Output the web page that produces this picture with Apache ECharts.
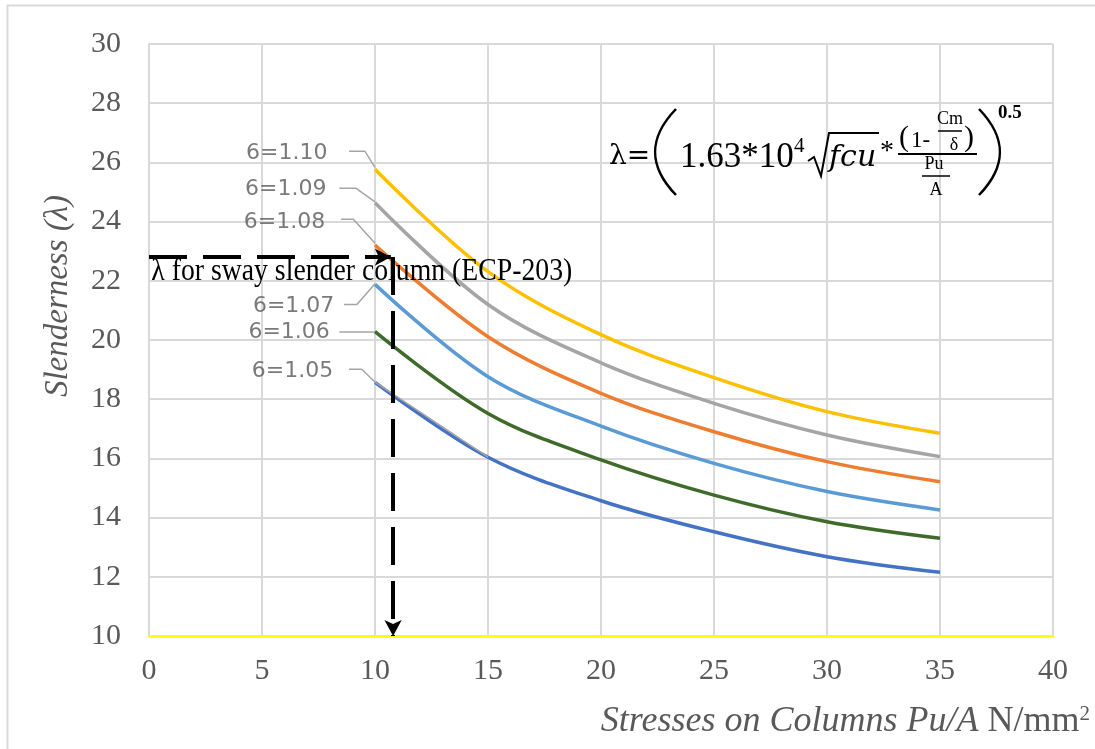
<!DOCTYPE html>
<html>
<head>
<meta charset="utf-8">
<script src="https://cdn.jsdelivr.net/npm/echarts@6/dist/echarts.min.js"></script>
<style>
html,body{margin:0;padding:0;background:#fff;}
#chart{width:1095px;height:749px;}
</style>
</head>
<body>
<div id="chart"></div>
<script>
// ---- data ----
const stress = [10, 15, 20, 25, 30, 35];
const d110 = [25.77, 22.31, 20.18, 18.73, 17.58, 16.85];
const d109 = [24.64, 21.20, 19.23, 17.86, 16.79, 16.06];
const d108 = [23.21, 20.11, 18.20, 16.90, 15.89, 15.21];
const d107 = [21.88, 18.76, 17.09, 15.83, 14.88, 14.26];
const d106 = [20.28, 17.52, 15.95, 14.76, 13.86, 13.30];
const d105 = [18.57, 16.04, 14.57, 13.52, 12.68, 12.15];
const seriesNames = ['6=1.10', '6=1.09', '6=1.08', '6=1.07', '6=1.06', '6=1.05'];
const xTicks = [0, 5, 10, 15, 20, 25, 30, 35, 40];
const yTicks = [10, 12, 14, 16, 18, 20, 22, 24, 26, 28, 30];
const designStress = 10.8;   // Pu/A for the ECP-203 limit
const swayLimit = 22.8;      // λ for sway slender column

// ---- styles ----
const colors = ['#FFC000', '#A5A5A5', '#ED7D31', '#5B9BD5', '#3F6B2A', '#4472C4'];
const allData = [d110, d109, d108, d107, d106, d105];
const gray = '#595959';

// label positions (data coords) and leader line paths
const labelPos = [[7.9, 26.3], [7.85, 25.1], [7.8, 23.98], [8.2, 21.13], [8.0, 20.27], [8.15, 18.95]];
const leaders = [
  [[8.85, 26.38], [9.55, 26.38], [10, 25.83]],
  [[8.42, 25.13], [9.15, 25.13], [10, 24.67]],
  [[8.5, 24.08], [9.04, 24.08], [10, 23.27]],
  [[8.63, 21.2], [9.2, 21.2], [10, 21.9]],
  [[8.42, 20.27], [10, 20.27]],
  [[8.85, 19.01], [9.41, 19.01], [10, 18.58], [15, 16.04]]
];

const series = [];
allData.forEach((arr, i) => {
  series.push({
    type: 'line', name: seriesNames[i], smooth: 0.35, symbol: 'none',
    data: stress.map((x, k) => [x, arr[k]]),
    lineStyle: { color: colors[i], width: 3.5 }, z: 3
  });
});
leaders.forEach((pts) => {
  series.push({
    type: 'line', symbol: 'none', silent: true, data: pts,
    lineStyle: { color: '#A5A5A5', width: 1.5 }, z: 4
  });
});
// label texts
series.push({
  type: 'scatter', symbolSize: 0, silent: true, z: 5,
  data: labelPos.map((p, i) => ({ value: p, name: seriesNames[i] })),
  label: {
    show: true, position: 'inside', formatter: (p) => p.name,
    fontFamily: 'DejaVu Sans', fontSize: 22, color: gray, align: 'right', verticalAlign: 'middle'
  }
});
// dashed arrows
series.push({
  type: 'line', symbol: 'none', silent: true, data: [], z: 6,
  markLine: {
    silent: true, symbol: ['none', 'arrow'], symbolSize: [13, 16],
    label: { show: false },
    lineStyle: { color: '#000', width: 4, type: [38, 16], opacity: 1 },
    data: [
      [{ coord: [0, swayLimit] }, { coord: [designStress - 0.1, swayLimit] }],
      [{ coord: [designStress, swayLimit] }, { coord: [designStress, 10] }]
    ]
  }
});

const chart = echarts.init(document.getElementById('chart'), null, { renderer: 'canvas' });
const serif = 'Liberation Serif';
chart.setOption({
  animation: false,
  backgroundColor: '#fff',
  grid: { left: 149, right: 42, top: 44, bottom: 113 },
  xAxis: {
    type: 'value', min: 0, max: 40, interval: 5,
    axisLine: { show: true, lineStyle: { color: '#FFFF00', width: 2.5 } },
    axisTick: { show: false },
    axisLabel: { fontFamily: serif, fontSize: 30, color: gray, margin: 20,
      formatter: (v) => xTicks.includes(v) ? String(v) : '' },
    splitLine: { show: true, lineStyle: { color: '#D9D9D9', width: 2 } }
  },
  yAxis: {
    type: 'value', min: 10, max: 30, interval: 2,
    axisLine: { show: true, lineStyle: { color: '#D9D9D9', width: 2 } },
    axisTick: { show: false },
    axisLabel: { fontFamily: serif, fontSize: 30, color: gray, margin: 28,
      formatter: (v) => yTicks.includes(v) ? String(v) : '' },
    splitLine: { show: true, lineStyle: { color: '#D9D9D9', width: 2 } }
  },
  series: series
});

// ---- annotations (text / formula) ----
const ctx = document.createElement('canvas').getContext('2d');
function fitScale(text, font, w) { ctx.font = font; return w / ctx.measureText(text).width; }
const limitText = 'λ for sway slender column (ECP-203)';
const limScale = fitScale(limitText, '31px "Liberation Serif"', 421);
const pLim = chart.convertToPixel({ gridIndex: 0 }, [0.1, 22.3]);

const T = (x, y, text, size, opt) => Object.assign({
  type: 'text', x: x, y: y, z: 20,
  style: Object.assign({ text: text, fontFamily: serif, fontSize: size, fill: '#000',
    textAlign: 'left', textVerticalAlign: 'middle' }, (opt && opt.style) || {})
}, opt && opt.el || {});

const graphics = [
  // outer border
  { type: 'polyline', shape: { points: [[7.5, 760], [7.5, 5.5], [1100, 5.5]] }, style: { stroke: '#D9D9D9', lineWidth: 2, fill: null } },
  // y title
  { type: 'text', x: 58, y: 296, rotation: Math.PI / 2, z: 20,
    style: { text: 'Slenderness (λ)', fontFamily: serif, fontStyle: 'italic', fontSize: 33, fill: gray,
      textAlign: 'center', textVerticalAlign: 'middle' } },
  // x title
  { type: 'text', x: 1090, y: 722, z: 20,
    style: { text: '{i|Stresses on Columns Pu/A}{n| N/mm}{s|2}', textAlign: 'right', textVerticalAlign: 'middle',
      rich: {
        i: { fontFamily: serif, fontStyle: 'italic', fontSize: 36, fill: gray },
        n: { fontFamily: serif, fontSize: 36, fill: gray },
        s: { fontFamily: serif, fontSize: 21, fill: gray, verticalAlign: 'top', padding: [0, 0, 16, 0] }
      } } },
  // limit label
  { type: 'text', x: pLim[0], y: pLim[1], scaleX: limScale, z: 20,
    style: { text: limitText, fontFamily: serif, fontSize: 31, fill: '#000', textAlign: 'left', textVerticalAlign: 'middle' } },
  // formula
  T(609, 157, 'λ=', 28, { style: { fontFamily: 'DejaVu Serif' } }),
  { type: 'bezierCurve', shape: { x1: 676, y1: 109, cpx1: 648, cpy1: 138, cpx2: 648, cpy2: 166, x2: 676, y2: 195 }, style: { stroke: '#000', lineWidth: 2.5, fill: null } },
  T(680, 158, '1.63*10', 35),
  T(794, 146, '4', 21),
  { type: 'polyline', shape: { points: [[808, 161], [814, 157], [821, 176], [829, 133], [879, 133]] }, style: { stroke: '#000', lineWidth: 2, fill: null } },
  T(829, 158, 'fcu', 30, { style: { fontFamily: 'DejaVu Serif', fontStyle: 'italic' } }),
  T(880, 152, '*', 28),
  { type: 'line', shape: { x1: 898, y1: 154, x2: 977, y2: 154 }, style: { stroke: '#000', lineWidth: 2 } },
  T(899, 138, '(', 30),
  T(911, 141, '1-', 23),
  T(950, 119, 'Cm', 18, { style: { textAlign: 'center' } }),
  { type: 'line', shape: { x1: 938, y1: 131, x2: 962, y2: 131 }, style: { stroke: '#000', lineWidth: 1.5 } },
  T(954, 145, 'δ', 18, { style: { textAlign: 'center' } }),
  T(964, 138, ')', 30),
  T(934, 164, 'Pu', 18, { style: { textAlign: 'center' } }),
  { type: 'line', shape: { x1: 922, y1: 176, x2: 950, y2: 176 }, style: { stroke: '#000', lineWidth: 1.5 } },
  T(936, 190, 'A', 18, { style: { textAlign: 'center' } }),
  { type: 'bezierCurve', shape: { x1: 979, y1: 109, cpx1: 1007, cpy1: 138, cpx2: 1007, cpy2: 166, x2: 979, y2: 195 }, style: { stroke: '#000', lineWidth: 2.5, fill: null } },
  T(998, 113, '0.5', 19, { style: { fontWeight: 'bold' } })
];
chart.setOption({ graphic: graphics });
</script>
</body>
</html>
